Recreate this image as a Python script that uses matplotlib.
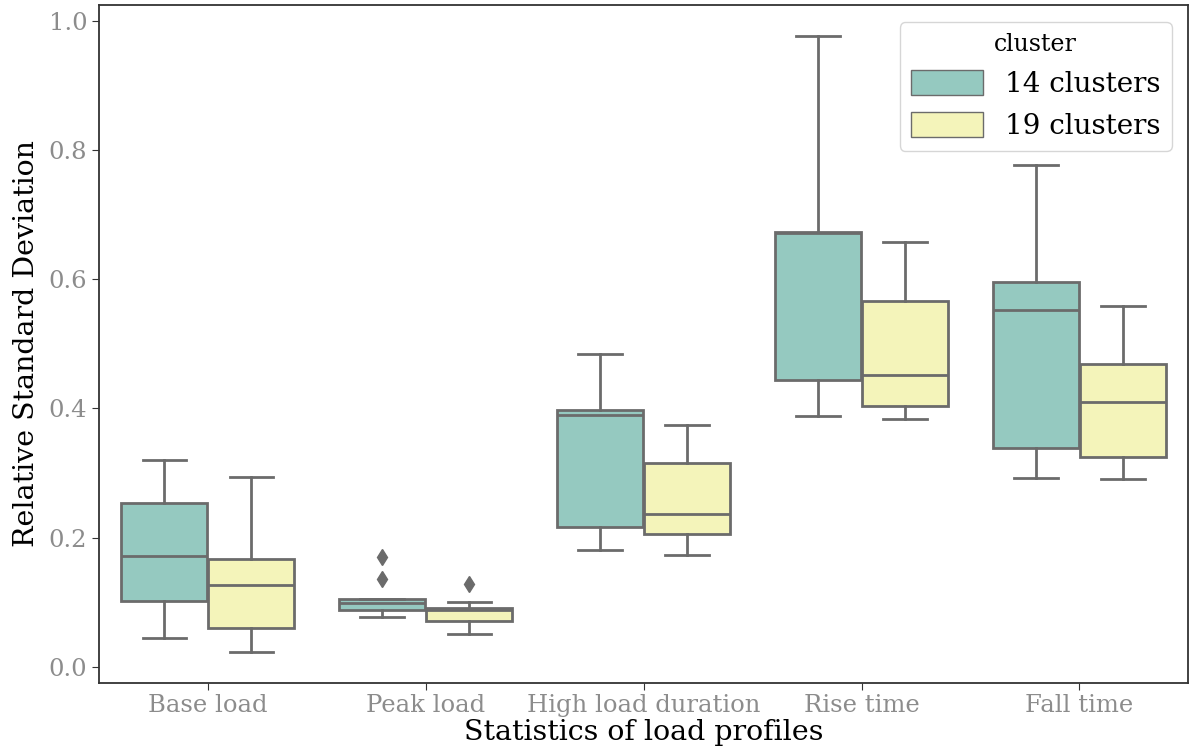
import numpy as np
import matplotlib.pyplot as plt
from matplotlib.patches import Patch

categories = ['Base load', 'Peak load', 'High load duration', 'Rise time', 'Fall time']
hues = ['14 clusters', '19 clusters']

# box stats per hue: whislo, q1, median, q3, whishi
stats_14 = [
    [0.045, 0.102, 0.172, 0.254, 0.320],
    [0.077, 0.088, 0.099, 0.105, 0.105],
    [0.180, 0.217, 0.390, 0.398, 0.485],
    [0.389, 0.444, 0.672, 0.673, 0.977],
    [0.293, 0.339, 0.553, 0.596, 0.777],
]
stats_19 = [
    [0.023, 0.060, 0.127, 0.167, 0.294],
    [0.051, 0.071, 0.088, 0.091, 0.100],
    [0.173, 0.206, 0.237, 0.316, 0.375],
    [0.384, 0.404, 0.452, 0.567, 0.658],
    [0.291, 0.325, 0.410, 0.469, 0.559],
]
fliers_14 = [[], [0.135, 0.170], [], [], []]
fliers_19 = [[], [0.128], [], [], []]

colors = ['#95c9c0', '#f4f4ba']
line_col = '#6b6b6b'

plt.rcParams['font.family'] = ['DejaVu Serif']

fig, ax = plt.subplots(figsize=(11.92, 7.56), dpi=100)
fig.subplots_adjust(left=0.083, right=0.997, top=0.993, bottom=0.097)

def build(stats, fliers):
    out = []
    for s, f in zip(stats, fliers):
        out.append(dict(whislo=s[0], q1=s[1], med=s[2], q3=s[3], whishi=s[4], fliers=f))
    return out

x = np.arange(len(categories))
for i, (st, fl) in enumerate([(stats_14, fliers_14), (stats_19, fliers_19)]):
    pos = x - 0.2 + 0.4 * i
    ax.bxp(build(st, fl), positions=pos, widths=0.395, patch_artist=True,
           boxprops=dict(facecolor=colors[i], edgecolor=line_col, linewidth=2),
           medianprops=dict(color=line_col, linewidth=2),
           whiskerprops=dict(color=line_col, linewidth=2),
           capprops=dict(color=line_col, linewidth=2),
           flierprops=dict(marker='d', markerfacecolor=line_col, markeredgecolor=line_col,
                           markersize=8),
           capwidths=0.2, manage_ticks=False)

ax.set_xlim(-0.5, 4.5)
ax.set_ylim(-0.025, 1.025)
ax.set_xticks(x)
ax.set_xticklabels(categories)
ax.set_yticks([0.0, 0.2, 0.4, 0.6, 0.8, 1.0])
ax.tick_params(axis='both', labelsize=17.5, labelcolor='#8c8c8c', color='#333333', length=5)
for s in ax.spines.values():
    s.set_color('#333333')
    s.set_linewidth(1.3)
ax.set_xlabel('Statistics of load profiles', fontsize=20.5, labelpad=1)
ax.set_ylabel('Relative Standard Deviation', fontsize=20.5, labelpad=6)

handles = [Patch(facecolor=colors[i], edgecolor=line_col, label=hues[i]) for i in range(2)]
leg = ax.legend(handles=handles, title='cluster', fontsize=20, title_fontsize=17,
                loc='upper right', frameon=True, handlelength=2.6, handleheight=1.0,
                borderaxespad=0.6)
leg.get_frame().set_edgecolor('#cccccc')

fig.savefig('out.png')
